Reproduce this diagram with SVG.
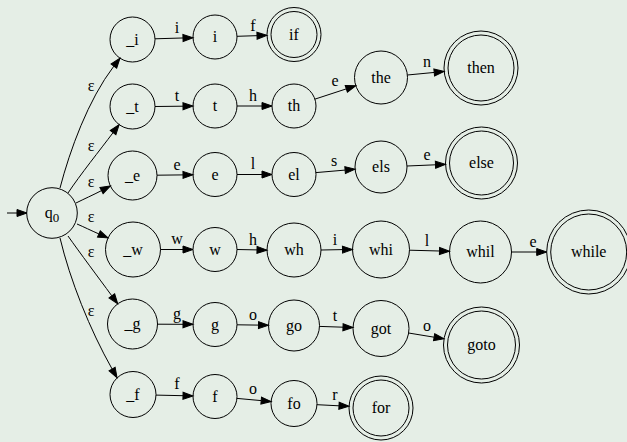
<svg xmlns="http://www.w3.org/2000/svg" width="627" height="442" viewBox="0 0 627 442" font-family="Liberation Serif, serif" font-size="16">
<defs>
<marker id="ah" markerUnits="userSpaceOnUse" markerWidth="11" markerHeight="8" refX="0" refY="0" viewBox="0 -4 11 8" orient="auto" overflow="visible">
<path d="M0,-3.5 L10,0 L0,3.5 Z" fill="#000" stroke="#000" stroke-width="1"/>
</marker>
<style>
text{font-family:"Liberation Serif","Times New Roman",serif;font-size:16px;fill:#000;text-anchor:middle}
.n circle{fill:none;stroke:#000;stroke-width:1}
#edges path{fill:none;stroke:#000;stroke-width:1;marker-end:url(#ah)}
</style>
</defs>
<rect x="0" y="0" width="627" height="442" fill="#e5eee6"/>
<g id="edges">
<path d="M7,213 L17,213"/>
<path d="M60,188 C70,150 88,100 113.9,66.1"/><text x="91" y="90.5">ε</text>
<path d="M68,193 C80,175 100,150 113.1,132.6"/><text x="91" y="150.5">ε</text>
<path d="M76,203 C84,199 93,195 101.5,190.6"/><text x="91" y="186.5">ε</text>
<path d="M77,224 C84,227 91,230.5 98.9,233.95"/><text x="91" y="221.5">ε</text>
<path d="M68,236 C80,253 98,277 111.8,295.8"/><text x="91" y="256.5">ε</text>
<path d="M60,238 C70,280 90,330 112.1,369"/><text x="91" y="315.5">ε</text>
<path d="M155,38.8 L183,37.97"/><text x="177" y="33">i</text>
<path d="M237,36.3 L257,35.67"/><text x="253" y="31">f</text>
<path d="M155,106.5 L183,106.2"/><text x="177" y="101">t</text>
<path d="M237,106 L262,106"/><text x="253" y="101">h</text>
<path d="M314.9,99.15 L346.3,88.86"/><text x="335" y="86">e</text>
<path d="M407.4,75 L434.2,72.45"/><text x="427" y="67">n</text>
<path d="M157,175.2 L183,174.9"/><text x="177" y="170">e</text>
<path d="M237,174.5 L262,174.5"/><text x="253" y="169">l</text>
<path d="M315.9,172.6 L345.1,170.1"/><text x="334" y="165.5">s</text>
<path d="M407,166 L435.5,164.8"/><text x="427" y="159.5">e</text>
<path d="M160.5,249.5 L183,249.5"/><text x="177" y="244">w</text>
<path d="M237,249.5 L257,249.9"/><text x="253" y="245">h</text>
<path d="M321,250 L342.5,249.6"/><text x="335" y="245">i</text>
<path d="M409.5,250.2 L439.5,251"/><text x="427" y="246">l</text>
<path d="M511.5,252 L536.7,252"/><text x="533" y="246.5">e</text>
<path d="M157.5,324.2 L183,324.3"/><text x="177" y="319">g</text>
<path d="M237,324.8 L258.5,325.1"/><text x="253" y="319.5">o</text>
<path d="M319.5,326.4 L343,327.2"/><text x="335" y="321">t</text>
<path d="M408.6,333 L434.1,337.2"/><text x="427" y="330.5">o</text>
<path d="M156,395.1 L183,395.7"/><text x="177" y="389">f</text>
<path d="M236.9,398.4 L261.2,400.6"/><text x="253" y="394">o</text>
<path d="M317,404.7 L339,405.8"/><text x="335" y="400">r</text>
</g>
<g id="q0" class="n"><circle cx="52" cy="213" r="25.3"/><text x="52" y="218">q<tspan font-size="13" dy="4">0</tspan></text></g>
<g id="n_i" class="n"><circle cx="132.5" cy="39.5" r="22.5"/><text x="132.5" y="44.5">_i</text></g>
<g id="n_t" class="n"><circle cx="132.5" cy="106.5" r="22.5"/><text x="132.5" y="111.5">_t</text></g>
<g id="n_e" class="n"><circle cx="132.5" cy="175.5" r="24.5"/><text x="132.5" y="180.5">_e</text></g>
<g id="n_w" class="n"><circle cx="133" cy="249.5" r="27.5"/><text x="133" y="254.5">_w</text></g>
<g id="n_g" class="n"><circle cx="132.5" cy="324" r="25"/><text x="132.5" y="329">_g</text></g>
<g id="n_f" class="n"><circle cx="133" cy="394.5" r="23"/><text x="133" y="399.5">_f</text></g>
<g id="i" class="n"><circle cx="215" cy="37" r="22"/><text x="215" y="42">i</text></g>
<g id="t" class="n"><circle cx="215" cy="106" r="22"/><text x="215" y="111">t</text></g>
<g id="e" class="n"><circle cx="215" cy="174.5" r="22"/><text x="215" y="179.5">e</text></g>
<g id="w" class="n"><circle cx="215" cy="249.5" r="22"/><text x="215" y="254.5">w</text></g>
<g id="g" class="n"><circle cx="215" cy="324.5" r="22"/><text x="215" y="329.5">g</text></g>
<g id="f" class="n"><circle cx="215" cy="396.5" r="22"/><text x="215" y="401.5">f</text></g>
<g id="if" class="n"><circle cx="294" cy="34.5" r="27"/><circle cx="294" cy="34.5" r="23"/><text x="294" y="39.5">if</text></g>
<g id="th" class="n"><circle cx="294" cy="106" r="22"/><text x="294" y="111">th</text></g>
<g id="el" class="n"><circle cx="294" cy="174.5" r="22"/><text x="294" y="179.5">el</text></g>
<g id="wh" class="n"><circle cx="294" cy="250" r="27"/><text x="294" y="255">wh</text></g>
<g id="go" class="n"><circle cx="294" cy="325.5" r="25.5"/><text x="294" y="330.5">go</text></g>
<g id="fo" class="n"><circle cx="294" cy="403.5" r="23"/><text x="294" y="408.5">fo</text></g>
<g id="the" class="n"><circle cx="381" cy="77.5" r="26.5"/><text x="381" y="82.5">the</text></g>
<g id="els" class="n"><circle cx="381" cy="167" r="26"/><text x="381" y="172">els</text></g>
<g id="whi" class="n"><circle cx="381" cy="249.5" r="28.5"/><text x="381" y="254.5">whi</text></g>
<g id="got" class="n"><circle cx="381" cy="328.5" r="28"/><text x="381" y="333.5">got</text></g>
<g id="for" class="n"><circle cx="381" cy="408" r="32"/><circle cx="381" cy="408" r="28"/><text x="381" y="413">for</text></g>
<g id="then" class="n"><circle cx="481" cy="68" r="37"/><circle cx="481" cy="68" r="33"/><text x="481" y="73">then</text></g>
<g id="else" class="n"><circle cx="481.5" cy="163" r="36"/><circle cx="481.5" cy="163" r="32"/><text x="481.5" y="168">else</text></g>
<g id="whil" class="n"><circle cx="480.5" cy="252" r="31"/><text x="480.5" y="257">whil</text></g>
<g id="goto" class="n"><circle cx="481.5" cy="345" r="38"/><circle cx="481.5" cy="345" r="34"/><text x="481.5" y="350">goto</text></g>
<g id="while" class="n"><circle cx="588.7" cy="252" r="42"/><circle cx="588.7" cy="252" r="38"/><text x="588.7" y="257">while</text></g>
</svg>
